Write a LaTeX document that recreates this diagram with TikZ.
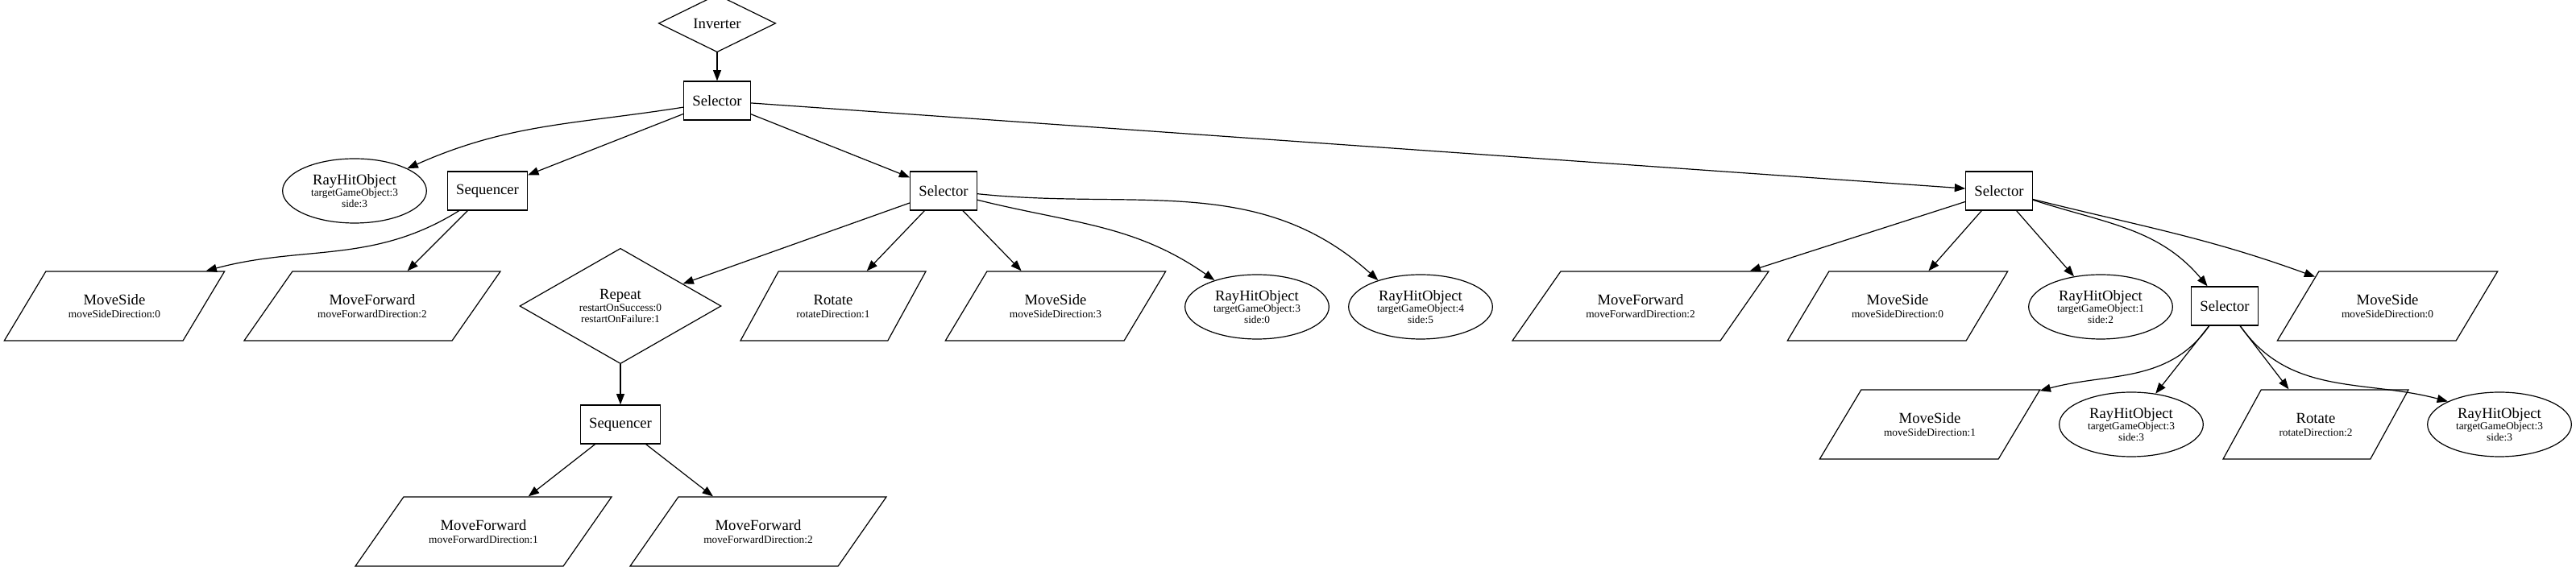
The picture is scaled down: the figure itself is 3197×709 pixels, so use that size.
\documentclass[tikz,border=0pt]{standalone}
\usepackage{fontspec}
\setmainfont{Liberation Serif}
\usepackage{tikz}
\usetikzlibrary{arrows.meta, shapes.geometric}
\newcommand{\subtxt}{\fontsize{10}{10.5}\selectfont}

\begin{document}
\begin{tikzpicture}[
  x=0.75pt, y=0.75pt,
  line width=0.9pt,
  >={Triangle[length=10pt, width=7.5pt]},
  every node/.style={font=\fontsize{14}{15}\selectfont, align=center},
  ctrl/.style={draw, rectangle, minimum width=54pt, minimum height=36pt, inner xsep=8pt},
  cond/.style={draw, ellipse, minimum width=134pt, minimum height=60pt, inner sep=0pt},
  act/.style={draw, trapezium, trapezium stretches body, inner xsep=4pt, inner ysep=20pt,
              minimum height=64.5pt},
  msact/.style={act, minimum width=205pt, trapezium left angle=58, trapezium right angle=122},
  mfact/.style={act, minimum width=238.5pt, trapezium left angle=54, trapezium right angle=126},
  rtact/.style={act, minimum width=172.5pt, trapezium left angle=60, trapezium right angle=120},
  deco/.style={draw, diamond, inner sep=0pt}
]
\useasboundingbox (0,0) rectangle (3197,709);
% top of the tree
\node[deco, minimum width=109pt, minimum height=36pt] (inv) at (890,680) {Inverter};
\node[ctrl] (sel1) at (890,584) {Selector};
% second row
\node[cond] (ray1) at (440,472) {RayHitObject\\[-4pt]\subtxt targetGameObject:3\\[-4.5pt]\subtxt side:3};
\node[ctrl] (seq1) at (605,472) {Sequencer};
\node[ctrl] (sel2) at (1171,472) {Selector};
\node[ctrl] (sel3) at (2481,472) {Selector};
% third row
\node[msact] (ms1) at (142,329) {MoveSide\\[-3pt]\subtxt moveSideDirection:0};
\node[mfact] (mf1) at (462,329) {MoveForward\\[-3pt]\subtxt moveForwardDirection:2};
\node[deco, minimum width=187.5pt, minimum height=84pt] (rep) at (770,329)
  {Repeat\\[-4pt]\subtxt restartOnSuccess:0\\[-4.5pt]\subtxt restartOnFailure:1};
\node[rtact] (rot1) at (1034,329) {Rotate\\[-3pt]\subtxt rotateDirection:1};
\node[msact] (ms3) at (1310,329) {MoveSide\\[-3pt]\subtxt moveSideDirection:3};
\node[cond] (ray2) at (1560,328) {RayHitObject\\[-4pt]\subtxt targetGameObject:3\\[-4.5pt]\subtxt side:0};
\node[cond] (ray3) at (1763,328) {RayHitObject\\[-4pt]\subtxt targetGameObject:4\\[-4.5pt]\subtxt side:5};
\node[mfact] (mf2) at (2036,329) {MoveForward\\[-3pt]\subtxt moveForwardDirection:2};
\node[msact] (ms0a) at (2355,329) {MoveSide\\[-3pt]\subtxt moveSideDirection:0};
\node[cond] (ray4) at (2607,328) {RayHitObject\\[-4pt]\subtxt targetGameObject:1\\[-4.5pt]\subtxt side:2};
\node[ctrl] (sel4) at (2761,329) {Selector};
\node[msact] (ms0b) at (2963,329) {MoveSide\\[-3pt]\subtxt moveSideDirection:0};
% fourth and fifth rows
\node[ctrl] (seq2) at (770,182) {Sequencer};
\node[mfact] (mf3) at (600,49) {MoveForward\\[-3pt]\subtxt moveForwardDirection:1};
\node[mfact] (mf4) at (941,49) {MoveForward\\[-3pt]\subtxt moveForwardDirection:2};
\node[msact] (ms1b) at (2395,182) {MoveSide\\[-3pt]\subtxt moveSideDirection:1};
\node[cond] (ray5) at (2645,182) {RayHitObject\\[-4pt]\subtxt targetGameObject:3\\[-4.5pt]\subtxt side:3};
\node[rtact] (rot2) at (2874,182) {Rotate\\[-3pt]\subtxt rotateDirection:2};
\node[cond] (ray6) at (3102,182) {RayHitObject\\[-4pt]\subtxt targetGameObject:3\\[-4.5pt]\subtxt side:3};
% edges
\draw[->] (inv) -- (sel1);
\draw[->] (sel1.191) to[out=189, in=24] (ray1.23);
\draw[->] (sel1) -- (seq1);
\draw[->] (sel1) -- (sel2);
\draw[->] (sel1) -- (sel3);
\draw[->] (seq1.215) to[out=212, in=15] (ms1.21);
\draw[->] (seq1) -- (mf1);
\draw[->] (sel2) -- (rep);
\draw[->] (sel2) -- (rot1);
\draw[->] (sel2) -- (ms3);
\draw[->] (sel2.-15) to[out=-14, in=145] (ray2.148);
\draw[->] (sel2.-5) to[out=-6, in=138] (ray3.148);
\draw[->] (sel3) -- (mf2);
\draw[->] (sel3) -- (ms0a);
\draw[->] (sel3) -- (ray4);
\draw[->] (sel3.-15) to[out=-18, in=130] (sel4.131);
\draw[->] (sel3.-14) to[out=-14, in=160] (ms0b.158);
\draw[->] (rep) -- (seq2);
\draw[->] (seq2) -- (mf3);
\draw[->] (seq2) -- (mf4);
\draw[->] (sel4.232) to[out=235, in=15] (ms1b.17);
\draw[->] (sel4) -- (ray5);
\draw[->] (sel4) -- (rot2);
\draw[->] (sel4.-52) to[out=-55, in=165] (ray6.156);
\end{tikzpicture}
\end{document}
